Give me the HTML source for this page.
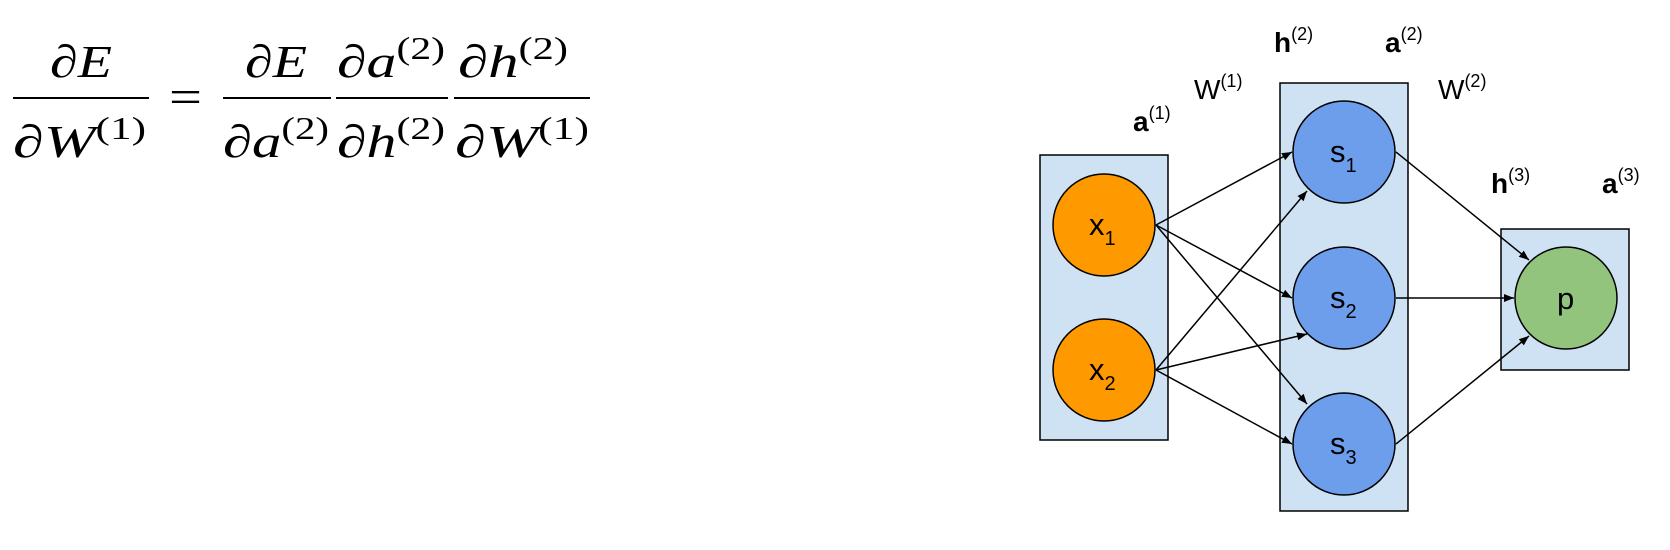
<!DOCTYPE html>
<html><head><meta charset="utf-8"><style>
html,body{margin:0;padding:0;background:#fff;}
svg{display:block;}
.m{font-family:"Liberation Serif",serif;font-style:italic;}
.r{font-family:"Liberation Serif",serif;}
.s{font-family:"Liberation Sans",sans-serif;}
</style></head><body>
<svg width="1670" height="550" viewBox="0 0 1670 550">
<defs><marker id="ah" markerWidth="10" markerHeight="8" refX="10" refY="4" orient="auto" markerUnits="userSpaceOnUse"><path d="M0,0 L10,4 L0,8 z" fill="#000"/></marker></defs>
<g>
 <g>
  <text x="50" y="77" font-size="46" textLength="62" lengthAdjust="spacingAndGlyphs"><tspan class="r">∂</tspan><tspan class="m">E</tspan></text>
  <line x1="13" y1="98" x2="149" y2="98" stroke="#000" stroke-width="2"/>
  <text x="13" y="157" font-size="46" textLength="133" lengthAdjust="spacingAndGlyphs"><tspan class="r">∂</tspan><tspan class="m">W</tspan><tspan class="r" font-size="32" dy="-18">(1)</tspan></text>
 </g>
 <text class="r" x="169" y="113" font-size="48" textLength="33" lengthAdjust="spacingAndGlyphs">=</text>
 <g>
  <text x="245" y="77" font-size="46" textLength="62" lengthAdjust="spacingAndGlyphs"><tspan class="r">∂</tspan><tspan class="m">E</tspan></text>
  <line x1="223" y1="98" x2="331" y2="98" stroke="#000" stroke-width="2"/>
  <text x="223" y="157" font-size="46" textLength="106" lengthAdjust="spacingAndGlyphs"><tspan class="r">∂</tspan><tspan class="m">a</tspan><tspan class="r" font-size="32" dy="-18">(2)</tspan></text>
 </g>
 <g>
  <text x="337" y="77" font-size="46" textLength="108" lengthAdjust="spacingAndGlyphs"><tspan class="r">∂</tspan><tspan class="m">a</tspan><tspan class="r" font-size="32" dy="-18">(2)</tspan></text>
  <line x1="336" y1="98" x2="448" y2="98" stroke="#000" stroke-width="2"/>
  <text x="337" y="157" font-size="46" textLength="108" lengthAdjust="spacingAndGlyphs"><tspan class="r">∂</tspan><tspan class="m">h</tspan><tspan class="r" font-size="32" dy="-18">(2)</tspan></text>
 </g>
 <g>
  <text x="458" y="77" font-size="46" textLength="110" lengthAdjust="spacingAndGlyphs"><tspan class="r">∂</tspan><tspan class="m">h</tspan><tspan class="r" font-size="32" dy="-18">(2)</tspan></text>
  <line x1="454" y1="98" x2="590" y2="98" stroke="#000" stroke-width="2"/>
  <text x="455" y="157" font-size="46" textLength="134" lengthAdjust="spacingAndGlyphs"><tspan class="r">∂</tspan><tspan class="m">W</tspan><tspan class="r" font-size="32" dy="-18">(1)</tspan></text>
 </g>
</g>
<g stroke="#000" stroke-width="1.5">
 <rect x="1040" y="155" width="128" height="285" fill="#cfe2f3"/>
 <rect x="1280" y="83" width="128" height="428" fill="#cfe2f3"/>
 <rect x="1501" y="229" width="128" height="141" fill="#cfe2f3"/>
</g>
<g stroke="#000" stroke-width="1.5" marker-end="url(#ah)">
 <line x1="1156" y1="225" x2="1292" y2="152"/>
 <line x1="1156" y1="225" x2="1292" y2="298"/>
 <line x1="1156" y1="225" x2="1307" y2="404"/>
 <line x1="1156" y1="370" x2="1307" y2="191"/>
 <line x1="1156" y1="370" x2="1307" y2="334"/>
 <line x1="1156" y1="370" x2="1292" y2="444"/>
 <line x1="1396" y1="152" x2="1529" y2="260"/>
 <line x1="1396" y1="298" x2="1514" y2="298"/>
 <line x1="1396" y1="444" x2="1529" y2="336"/>
</g>
<g stroke="#000" stroke-width="1.5">
 <circle cx="1104" cy="225" r="51" fill="#ff9900"/>
 <circle cx="1104" cy="370" r="51" fill="#ff9900"/>
 <circle cx="1344" cy="152" r="51" fill="#6d9eeb"/>
 <circle cx="1344" cy="298" r="51" fill="#6d9eeb"/>
 <circle cx="1344" cy="444" r="51" fill="#6d9eeb"/>
 <circle cx="1566" cy="298" r="51" fill="#93c47d"/>
</g>
<g class="s" font-size="31">
 <text x="1089" y="235">x<tspan font-size="20" dy="10">1</tspan></text>
 <text x="1089" y="380">x<tspan font-size="20" dy="10">2</tspan></text>
 <text x="1330" y="162">s<tspan font-size="20" dy="10">1</tspan></text>
 <text x="1330" y="308">s<tspan font-size="20" dy="10">2</tspan></text>
 <text x="1330" y="454">s<tspan font-size="20" dy="10">3</tspan></text>
 <text x="1557" y="309">p</text>
</g>
<g class="s" font-size="28">
 <text x="1133" y="131"><tspan font-weight="bold">a</tspan><tspan font-size="18" dy="-12">(1)</tspan></text>
 <text x="1194" y="99">W<tspan font-size="18" dy="-12">(1)</tspan></text>
 <text x="1274" y="52"><tspan font-weight="bold">h</tspan><tspan font-size="18" dy="-12">(2)</tspan></text>
 <text x="1385" y="52"><tspan font-weight="bold">a</tspan><tspan font-size="18" dy="-12">(2)</tspan></text>
 <text x="1438" y="99">W<tspan font-size="18" dy="-12">(2)</tspan></text>
 <text x="1491" y="193"><tspan font-weight="bold">h</tspan><tspan font-size="18" dy="-12">(3)</tspan></text>
 <text x="1602" y="193"><tspan font-weight="bold">a</tspan><tspan font-size="18" dy="-12">(3)</tspan></text>
</g>
</svg>
</body></html>
